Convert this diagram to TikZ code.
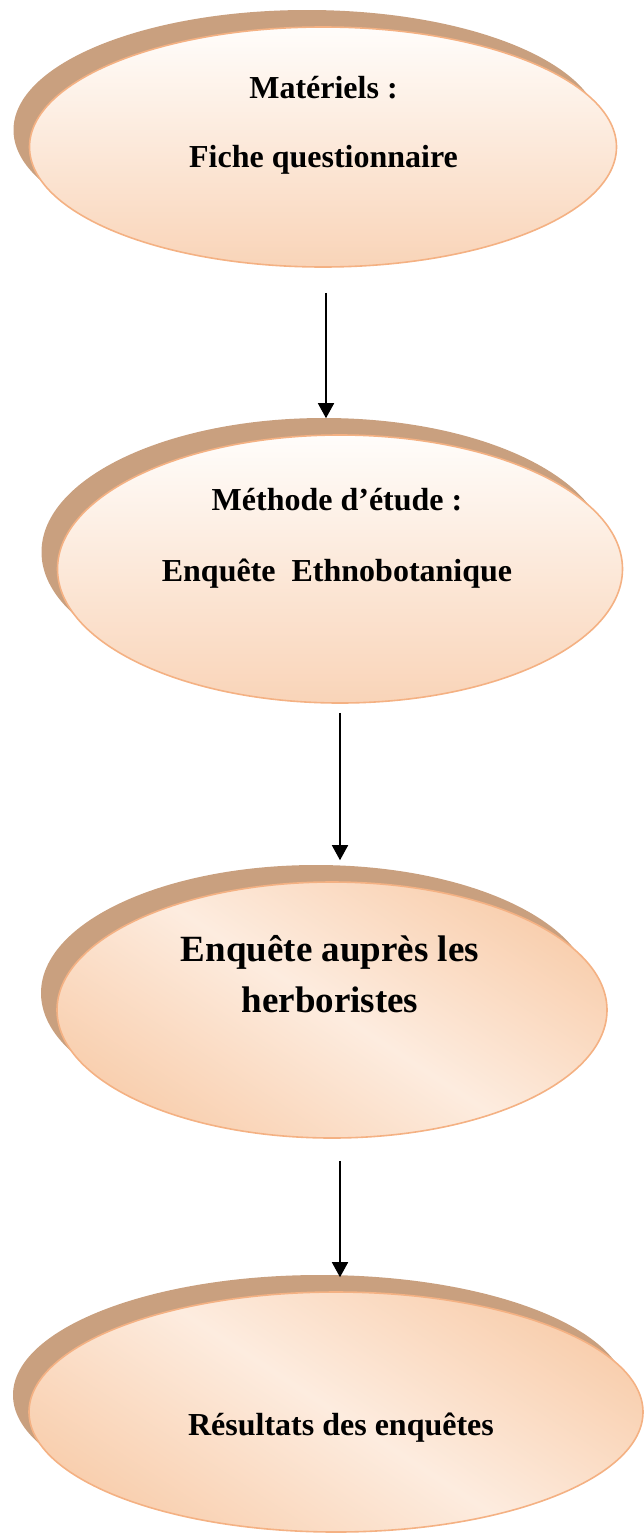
\documentclass[tikz,border=0pt]{standalone}
\usepackage{fontspec}
\setmainfont{Liberation Serif}
\usetikzlibrary{shapes.geometric,shadows,arrows.meta}
\definecolor{shadowc}{RGB}{201,160,127}
\definecolor{edgec}{RGB}{244,177,131}
\definecolor{peach}{RGB}{249,212,184}
\definecolor{peachd}{RGB}{247,197,158}
\definecolor{lightp}{RGB}{253,236,223}
\definecolor{whitep}{RGB}{255,253,251}
\pgfdeclareverticalshading{diagsh}{100bp}{color(0bp)=(peachd); color(16bp)=(peachd); color(50bp)=(lightp); color(84bp)=(peachd); color(100bp)=(peachd)}
\begin{document}
\begin{tikzpicture}[x=1pt,y=1pt,
  oval/.style={ellipse, draw=edgec, line width=1.6pt, inner sep=0pt,
     general shadow={shadow xshift=-16pt, shadow yshift=17pt, fill=shadowc}},
  vshade/.style={top color=whitep, bottom color=peach},
  dshade/.style={shade, shading=diagsh, shading angle=-33},
  txt/.style={font=\bfseries\fontsize{32}{38}\selectfont, anchor=base, inner sep=0pt},
  bigtxt/.style={font=\bfseries\fontsize{37}{44}\selectfont, anchor=base, inner sep=0pt},
  arr/.style={line width=1.6pt, -{Triangle[width=16pt,length=15pt]}}]
\useasboundingbox (0,0) rectangle (643,-1534);

\node[oval, vshade, minimum width=587pt, minimum height=240pt] (e1) at (323,-147) {};
\node[oval, vshade, minimum width=565pt, minimum height=268pt] (e2) at (340,-569) {};
\node[oval, dshade, minimum width=550pt, minimum height=256pt] (e3) at (332,-1010) {};
\node[oval, dshade, minimum width=614pt, minimum height=240pt] (e4) at (336,-1412) {};

\node[txt] (t1a) at (323.5,-98) {Matériels :};
\node[txt] (t1b) at (323.5,-167) {Fiche questionnaire};
\node[txt] (t2a) at (337,-510) {Méthode d’étude :};
\node[txt] (t2b) at (337,-581) {Enquête~~Ethnobotanique};
\node[bigtxt] (t3a) at (330,-961) {Enquête auprès les};
\node[bigtxt] (t3b) at (330,-1012) {herboristes};
\node[txt] (t4) at (341,-1435) {Résultats des enquêtes};

\draw[arr] ([xshift=3pt,yshift=-25pt]e1.south) -- ([xshift=-14pt,yshift=16pt]e2.north);
\draw[arr] ([xshift=0pt,yshift=-9pt]e2.south) -- ([xshift=8pt,yshift=21pt]e3.north);
\draw[arr] ([xshift=8pt,yshift=-22pt]e3.south) -- ([xshift=4pt,yshift=14pt]e4.north);
\end{tikzpicture}
\end{document}
